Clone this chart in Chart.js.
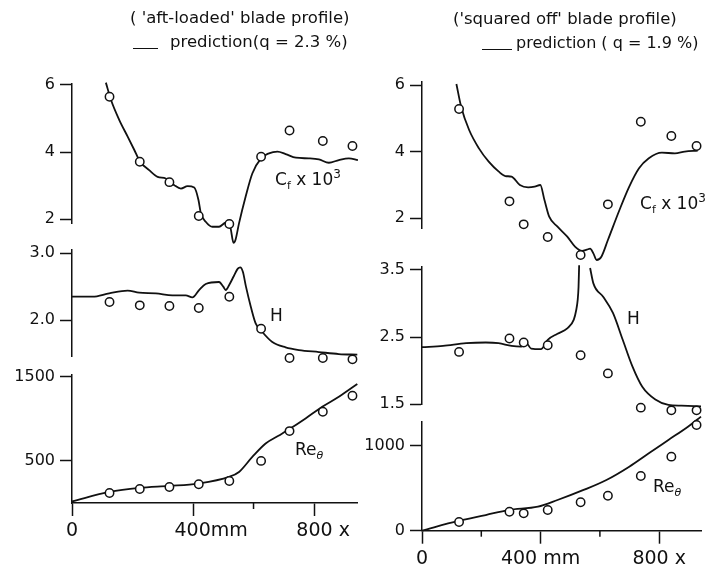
<!DOCTYPE html>
<html>
<head>
<meta charset="utf-8">
<script src="https://cdn.jsdelivr.net/npm/chart.js@4.4.1/dist/chart.umd.min.js"></script>
<style>
html,body{margin:0;padding:0;background:#fff;}
#wrap{position:relative;width:707px;height:569px;overflow:hidden;font-family:"DejaVu Sans",sans-serif;color:#111;}
#wrap canvas{position:absolute;left:0;top:0;}
.t{position:absolute;white-space:nowrap;line-height:1.15;}
.dash{position:absolute;height:0;border-top:1.5px solid #111;}
.lab{position:absolute;white-space:nowrap;font-size:17px;line-height:1.1;}
.lab sub{font-size:11px;vertical-align:-4px;}
.lab sup{font-size:12px;vertical-align:7px;}
</style>
</head>
<body>
<div id="wrap">
  <div class="t" style="left:130px;top:9px;font-size:16.5px">( 'aft-loaded' blade profile)</div>
  <div class="dash" style="left:133px;top:48px;width:25px"></div>
  <div class="t" style="left:170px;top:33px;font-size:16.5px">prediction(q = 2.3 %)</div>

  <div class="t" style="left:453px;top:10px;font-size:16.5px">('squared off' blade profile)</div>
  <div class="dash" style="left:482px;top:49px;width:30px"></div>
  <div class="t" style="left:516px;top:34px;font-size:16px">prediction ( q = 1.9 %)</div>

  <div class="lab" style="left:275px;top:168px">C<sub>f</sub> x 10<sup>3</sup></div>
  <div class="lab" style="left:640px;top:192px">C<sub>f</sub> x 10<sup>3</sup></div>
  <div class="lab" style="left:270px;top:306px">H</div>
  <div class="lab" style="left:627px;top:309px">H</div>
  <div class="lab" style="left:295px;top:440px">Re<sub><i>θ</i></sub></div>
  <div class="lab" style="left:653px;top:477px">Re<sub><i>θ</i></sub></div>
</div>
<script>
// ---------- 'aft-loaded' blade profile (left) ----------
const aftStations = [124, 224, 322, 419, 520, 625, 719, 829, 927];
const aftCfMeas = [5.65, 3.71, 3.10, 2.09, 1.85, 3.86, 4.64, 4.33, 4.18];
const aftHMeas  = [2.27, 2.22, 2.21, 2.18, 2.35, 1.87, 1.43, 1.43, 1.41];
const aftReMeas = [119, 166, 190, 222, 261, 499, 852, 1081, 1271];

const aftCfPredX = [112,129,156,184,206,225,255,283,310,338,360,382,404,418,426,442,464,486,508,523,534,541,552,574,596,625,651,679,706,740,783,816,849,882,915,945];
const aftCfPred  = [6.07,5.55,4.96,4.46,4.06,3.71,3.46,3.26,3.21,3.01,2.91,2.98,2.94,2.57,2.17,1.92,1.77,1.77,1.89,1.77,1.29,1.40,1.87,2.67,3.36,3.81,3.96,4.01,3.94,3.83,3.81,3.78,3.68,3.76,3.81,3.76];

const aftHPredX = [0,68,123,184,222,277,332,376,398,420,442,486,500,508,520,535,548,556,565,575,591,607,629,662,706,750,816,882,943];
const aftHPred  = [2.35,2.35,2.40,2.44,2.41,2.40,2.37,2.37,2.34,2.45,2.54,2.57,2.50,2.45,2.53,2.66,2.77,2.79,2.72,2.50,2.20,1.95,1.82,1.67,1.59,1.55,1.52,1.49,1.48];

const aftRePredX = [0,124,222,321,416,519,552,596,640,684,716,772,827,882,943];
const aftRePred  = [20,131,178,202,230,309,368,546,705,800,870,1002,1140,1259,1410];

// ---------- 'squared off' blade profile (right) ----------
const sqStations = [125, 295, 343, 424, 535, 627, 738, 841, 926];
const sqCfMeas = [5.28, 2.51, 1.82, 1.44, 0.90, 2.42, 4.90, 4.47, 4.17];
const sqHMeas  = [2.28, 2.48, 2.42, 2.38, 2.23, 1.96, 1.45, 1.41, 1.41];
const sqReMeas = [103, 224, 205, 244, 335, 413, 646, 874, 1248];

const sqCfPredX = [116,132,159,192,225,259,281,302,330,358,380,399,413,429,457,490,516,540,556,567,578,589,605,627,666,699,732,765,809,853,886,930];
const sqCfPred  = [6.03,5.35,4.65,4.10,3.70,3.40,3.27,3.25,3.00,2.93,2.95,3.00,2.55,2.05,1.75,1.45,1.15,1.02,1.06,1.09,0.95,0.75,0.85,1.35,2.25,2.95,3.50,3.80,3.97,3.95,4.00,4.03];

const sqHPredX = [0,71,149,215,258,302,335,352,368,401,424,457,490,512,520,525,528,530,548,567,578,611,644,677,710,743,787,831,875,941];
const sqHPred  = [2.35,2.37,2.41,2.42,2.41,2.37,2.36,2.41,2.33,2.32,2.46,2.55,2.63,2.76,2.90,3.05,3.25,3.57,null,3.53,3.30,3.10,2.86,2.46,2.06,1.76,1.57,1.49,1.48,1.47];

const sqRePredX = [0,122,215,292,391,457,545,622,699,765,831,897,941];
const sqRePred  = [0,115,185,244,283,362,481,599,756,914,1071,1228,1346];

// ---------- axis ticks ----------
const xMajorTicks = [0, 400, 800];
const xLabelsLeft = ['0', '\u2007\u2007\u2007400mm', '\u2007 800 x'];
const xLabelsRight = ['0', '400 mm', '800 x'];
const xMinorLeft = [600];
const xMinorRight = [200, 600];

const cfTicks = [2, 4, 6];
const cfLabels = ['2', '4', '6'];
const hTicksLeft = [2.0, 3.0];
const hLabelsLeft = ['2.0', '3.0'];
const hTicksRight = [1.5, 2.5, 3.5];
const hLabelsRight = ['1.5', '2.5', '3.5'];
const reTicksLeft = [500, 1500];
const reLabelsLeft = ['500', '1500'];
const reTicksRight = [0, 1000];
const reLabelsRight = ['0', '1000'];

// ---------- drawing ----------
const W = 707, H = 569, YW = 60, XH = 38;
Chart.defaults.font.family = '"DejaVu Sans", sans-serif';
Chart.defaults.color = '#111';

// measured circles lie partly outside each sub-plot's axis span: let points draw there too
const PointEl = Chart.PointElement || (Chart.elements && Chart.elements.PointElement);
if (PointEl) {
  const origDraw = PointEl.prototype.draw;
  const bigArea = { left: -1e5, top: -1e5, right: 1e5, bottom: 1e5 };
  PointEl.prototype.draw = function (ctx) { return origDraw.call(this, ctx, bigArea); };
}

const minorTicks = {
  id: 'minorTicks',
  afterDraw(chart, args, opts) {
    const vals = opts.values || [];
    if (!vals.length || !chart.scales.x.options.display) return;
    const xs = chart.scales.x, ctx = chart.ctx, y0 = chart.chartArea.bottom;
    ctx.save();
    ctx.strokeStyle = '#111';
    ctx.lineWidth = 1.5;
    vals.forEach(v => {
      const px = xs.getPixelForValue(v);
      ctx.beginPath(); ctx.moveTo(px, y0); ctx.lineTo(px, y0 + opts.length); ctx.stroke();
    });
    ctx.restore();
  }
};

function pts(xs, ys) { return xs.map((x, i) => ({ x: x, y: ys[i] })); }

function makeChart(o) {
  const cv = document.createElement('canvas');
  cv.width = W; cv.height = H;
  cv.style.width = W + 'px'; cv.style.height = H + 'px';
  const wrap = document.getElementById('wrap');
  wrap.insertBefore(cv, wrap.firstChild);
  const xAxis = !!o.xLabels;
  new Chart(cv, {
    type: 'line',
    data: {
      datasets: [
        { label: 'prediction', data: pts(o.predX, o.predY), borderColor: '#111', borderWidth: 1.8,
          pointRadius: 0, cubicInterpolationMode: 'monotone', fill: false, clip: false, spanGaps: false, order: 2 },
        { label: 'measured', data: pts(o.measX, o.measY), showLine: false, pointRadius: 4.2,
          pointBorderWidth: 1.5, pointBorderColor: '#111', pointBackgroundColor: '#fff', clip: false, order: 1 }
      ]
    },
    options: {
      responsive: false, animation: false, events: [],
      layout: { padding: { left: o.area.left - YW, top: o.area.top, right: W - o.area.right,
                           bottom: H - o.area.bottom - (xAxis ? XH : 0) } },
      plugins: { legend: { display: false }, tooltip: { enabled: false },
                 minorTicks: { values: o.xMinor || [], length: 6 } },
      scales: {
        x: {
          type: 'linear', min: 0, max: 942, display: xAxis,
          afterFit: s => { s.height = xAxis ? XH : 0; },
          afterBuildTicks: s => { s.ticks = xMajorTicks.map(v => ({ value: v })); },
          border: { display: true, color: '#111', width: 1.5 },
          grid: { drawOnChartArea: false, drawTicks: true, tickLength: 13, tickWidth: 1.5, tickColor: '#111' },
          ticks: { autoSkip: false, maxRotation: 0, padding: 4, font: { size: 19 },
                   callback: (v, i) => (o.xLabels ? o.xLabels[i] : '') }
        },
        y: {
          type: 'linear', min: o.yMin, max: o.yMax,
          afterFit: s => { s.width = YW; },
          afterBuildTicks: s => { s.ticks = o.yTicks.map(v => ({ value: v })); },
          border: { display: true, color: '#111', width: 1.5 },
          grid: { drawOnChartArea: false, drawTicks: true, tickLength: 12, tickWidth: 1.5, tickColor: '#111' },
          ticks: { padding: 5, font: { size: 16 }, callback: (v, i) => o.yLabels[i] }
        }
      }
    },
    plugins: [minorTicks]
  });
}

// left panel
makeChart({ area: { left: 72, right: 357, top: 83.3, bottom: 223.4 }, yMin: 1.87, yMax: 6.05,
  yTicks: cfTicks, yLabels: cfLabels, predX: aftCfPredX, predY: aftCfPred, measX: aftStations, measY: aftCfMeas });
makeChart({ area: { left: 72, right: 357, top: 250, bottom: 356.7 }, yMin: 1.45, yMax: 3.05,
  yTicks: hTicksLeft, yLabels: hLabelsLeft, predX: aftHPredX, predY: aftHPred, measX: aftStations, measY: aftHMeas });
makeChart({ area: { left: 72, right: 357, top: 374.7, bottom: 503 }, yMin: 0, yMax: 1520,
  yTicks: reTicksLeft, yLabels: reLabelsLeft, predX: aftRePredX, predY: aftRePred, measX: aftStations, measY: aftReMeas,
  xLabels: xLabelsLeft, xMinor: xMinorLeft });

// right panel
makeChart({ area: { left: 422, right: 707, top: 81.7, bottom: 228 }, yMin: 1.71, yMax: 6.1,
  yTicks: cfTicks, yLabels: cfLabels, predX: sqCfPredX, predY: sqCfPred, measX: sqStations, measY: sqCfMeas });
makeChart({ area: { left: 422, right: 707, top: 266.6, bottom: 404.3 }, yMin: 1.5, yMax: 3.55,
  yTicks: hTicksRight, yLabels: hLabelsRight, predX: sqHPredX, predY: sqHPred, measX: sqStations, measY: sqHMeas });
makeChart({ area: { left: 422, right: 707, top: 421.4, bottom: 530.7 }, yMin: 0, yMax: 1290,
  yTicks: reTicksRight, yLabels: reLabelsRight, predX: sqRePredX, predY: sqRePred, measX: sqStations, measY: sqReMeas,
  xLabels: xLabelsRight, xMinor: xMinorRight });
</script>
</body>
</html>
